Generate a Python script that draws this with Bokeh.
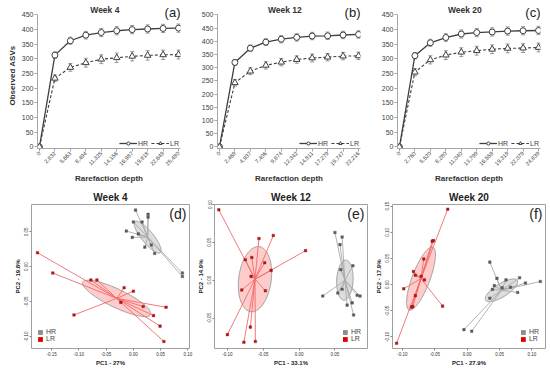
import math
import numpy as np
from bokeh.plotting import figure
from bokeh.layouts import column, row
from bokeh.models import (FixedTicker, Range1d, Label, Legend, LegendItem, Whisker,
                          ColumnDataSource, TeeHead, NumeralTickFormatter)
from bokeh.embed import file_html
from bokeh.resources import INLINE

FONT = "Liberation Sans"

# ---------------- Rarefaction curves (observed ASVs) ----------------
depth_w4 = [0, 2832, 5663, 8494, 11325, 14156, 16987, 19818, 22649, 25480]
hr_w4 = [0, 313, 362, 381, 390, 396, 400, 402, 404, 405]
hr_w4_sd = [0, 11, 12, 13, 14, 14, 14, 14, 14, 14]
lr_w4 = [0, 234, 271, 287, 299, 304, 309, 312, 314, 315]
lr_w4_sd = [0, 11, 13, 15, 15, 16, 16, 16, 16, 15]

depth_w12 = [0, 2469, 4937, 7406, 9874, 12342, 14811, 17279, 19747, 22216]
hr_w12 = [0, 320, 374, 397, 408, 415, 420, 421, 424, 426]
hr_w12_sd = [0, 11, 12, 13, 14, 14, 14, 14, 14, 14]
lr_w12 = [0, 243, 287, 309, 321, 331, 337, 340, 344, 345]
lr_w12_sd = [0, 12, 13, 14, 14, 14, 15, 14, 14, 14]

depth_w20 = [0, 2760, 5520, 8280, 11040, 13799, 16559, 19319, 22079, 24839]
hr_w20 = [0, 311, 355, 373, 385, 390, 392, 395, 396, 397]
hr_w20_sd = [0, 11, 12, 13, 14, 14, 14, 14, 14, 14]
lr_w20 = [0, 255, 297, 313, 323, 328, 333, 336, 337, 339]
lr_w20_sd = [0, 12, 14, 15, 15, 15, 15, 15, 15, 15]

# ---------------- PCA scores ----------------
d_hr_x = [0.004, 0.027, 0.027, 0.000, 0.016, -0.013, 0.009, -0.002, 0.033, 0.021, 0.039, 0.090, 0.090]
d_hr_y = [0.081, 0.075, 0.071, 0.064, 0.064, 0.051, 0.047, 0.042, 0.031, 0.028, 0.019, -0.009, -0.014]
d_lr_x = [-0.176, -0.148, -0.078, -0.067, -0.017, 0.000, -0.023, 0.018, 0.060, -0.109, 0.037, 0.049, 0.056]
d_lr_y = [0.020, -0.009, -0.019, -0.019, -0.030, -0.035, -0.051, -0.057, -0.058, -0.069, -0.070, -0.085, -0.107]
# ellipse conjugate semi-axes: major (dx, dy), minor (dx, dy)
d_hr_ell = [0.0232, -0.0223, -0.0086, -0.0052]
d_lr_ell = [0.0622, -0.0232, -0.0075, -0.0117]

e_hr_x = [0.050, 0.060, 0.057, 0.058, 0.075, 0.033, 0.054, 0.060, 0.081, 0.085, 0.067, 0.074, 0.076]
e_hr_y = [0.063, 0.057, 0.047, 0.014, 0.019, -0.021, -0.017, -0.012, -0.020, -0.021, -0.033, -0.030, -0.046]
e_lr_x = [-0.112, -0.056, -0.036, 0.009, -0.075, -0.066, -0.048, -0.039, -0.067, -0.080, -0.047, -0.068, -0.100, -0.077, -0.061]
e_lr_y = [0.093, 0.055, 0.059, 0.039, 0.027, 0.030, 0.023, 0.013, 0.005, -0.013, -0.014, -0.062, -0.072, -0.082, -0.081]
e_hr_ell = [0.0014, 0.0265, 0.0114, -0.0005]
e_lr_ell = [0.0059, 0.0430, 0.0225, -0.0028]

f_hr_x = [0.035, 0.046, 0.060, 0.042, 0.039, 0.054, 0.067, 0.081, 0.090, 0.113, 0.078, 0.035, -0.005, 0.007]
f_hr_y = [0.043, 0.012, 0.009, -0.002, -0.009, -0.006, -0.005, 0.013, 0.003, 0.006, -0.015, -0.026, -0.086, -0.089]
f_lr_x = [-0.030, -0.054, -0.052, -0.067, -0.083, -0.080, -0.071, -0.066, -0.098, -0.080, -0.086, -0.084, -0.038, -0.109]
f_lr_y = [0.144, 0.083, 0.084, 0.049, 0.025, 0.018, 0.016, 0.009, -0.008, -0.021, -0.043, -0.042, -0.041, -0.112]
f_hr_ell = [0.0244, 0.0189, 0.0054, -0.0107]
f_lr_ell = [0.0183, 0.0600, 0.0128, -0.0061]

LINE = "#3f3f3f"
AXC = "#a6a6a6"
NAN = float("nan")
PLOT_H = 138.0   # pixel height between 0 and the top tick of the rarefaction panels


def rare_panel(depth, hr, hr_sd, lr, lr_sd, ymax, title, tag, w, left, right, ylabel=None):
    ystart = -ymax * 0.012
    yend = ymax * (1 + 13 / PLOT_H)
    p = figure(width=w, height=186, output_backend="svg", toolbar_location=None,
               x_range=Range1d(-depth[-1] * 0.014, depth[-1] * 1.014),
               y_range=Range1d(ystart, yend),
               min_border_left=left, min_border_right=right,
               min_border_top=2, min_border_bottom=33)
    p.outline_line_color = None
    p.xgrid.grid_line_color = None
    p.ygrid.grid_line_color = None

    for sd, ys in ((hr_sd, hr), (lr_sd, lr)):
        src = ColumnDataSource(dict(x=depth[1:],
                                    lo=[a - b for a, b in zip(ys[1:], sd[1:])],
                                    hi=[a + b for a, b in zip(ys[1:], sd[1:])]))
        p.add_layout(Whisker(source=src, base="x", lower="lo", upper="hi",
                             line_color="#7f7f7f", line_width=0.8,
                             upper_head=TeeHead(size=4, line_color="#7f7f7f", line_width=0.8),
                             lower_head=TeeHead(size=4, line_color="#7f7f7f", line_width=0.8)))

    l_hr = p.line(depth, hr, line_color=LINE, line_width=1.3)
    m_hr = p.scatter(depth, hr, marker="circle", size=6, fill_color="white",
                     line_color=LINE, line_width=1)
    l_lr = p.line(depth, lr, line_color=LINE, line_width=1.1, line_dash="3 2")
    m_lr = p.scatter(depth, lr, marker="triangle", size=6.5, fill_color="white",
                     line_color=LINE, line_width=1)

    leg = Legend(items=[LegendItem(label="HR", renderers=[l_hr, m_hr]),
                        LegendItem(label="LR", renderers=[l_lr, m_lr])],
                 orientation="horizontal", location="bottom_right",
                 border_line_color=None, background_fill_alpha=0,
                 label_text_font=FONT, label_text_font_size="7px", label_text_color="#404040",
                 glyph_width=18, glyph_height=8, spacing=3, padding=1, margin=1,
                 label_standoff=1, label_height=8, label_width=8)
    p.add_layout(leg)

    xa = p.xaxis[0]
    ya = p.yaxis[0]
    xa.ticker = FixedTicker(ticks=depth)
    xa.formatter = NumeralTickFormatter(format="0,0")
    xa.major_label_orientation = math.pi / 4
    xa.major_label_text_font_size = "5.6px"
    ya.ticker = FixedTicker(ticks=list(range(0, ymax + 1, 50)))
    ya.bounds = (ystart, ymax)
    ya.major_label_text_font_size = "7px"
    for ax in (xa, ya):
        ax.axis_line_color = AXC
        ax.major_tick_line_color = AXC
        ax.minor_tick_line_color = None
        ax.major_tick_in = 0
        ax.major_tick_out = 3
        ax.major_label_standoff = 1
        ax.major_label_text_color = "#404040"
        ax.major_label_text_font = FONT
        ax.axis_label_text_font = FONT
        ax.axis_label_text_font_style = "bold"
        ax.axis_label_text_font_size = "8px"
        ax.axis_label_text_color = "#333333"
        ax.axis_label_standoff = 2
    xa.axis_label_standoff = 4
    xa.axis_label = "Rarefaction depth"
    if ylabel:
        ya.axis_label = ylabel

    p.add_layout(Label(x=depth[-1] * 0.47, y=ymax * (1 + 5 / PLOT_H), text=title,
                       text_align="center", text_baseline="middle", text_font=FONT,
                       text_font_size="8.5px", text_font_style="bold", text_color="#333333"))
    p.add_layout(Label(x=depth[-1] * 1.014, y=ymax * (1 + 3 / PLOT_H), text=tag,
                       text_align="right", text_baseline="middle", text_font=FONT,
                       text_font_size="13px", text_color="#222222"))
    return p


def ellipse_xy(xs, ys, vec):
    cx, cy = float(np.mean(xs)), float(np.mean(ys))
    t = np.linspace(0, 2 * np.pi, 120)
    ax, ay, bx, by = vec
    return cx + ax * np.cos(t) + bx * np.sin(t), cy + ay * np.cos(t) + by * np.sin(t)


def pca_panel(hr_x, hr_y, hr_ell, lr_x, lr_y, lr_ell, xr, yr, xt, yt, title, tag,
              xlabel, ylabel, w, left, right, legend_loc):
    p = figure(width=w, height=182, output_backend="svg", toolbar_location=None,
               x_range=Range1d(*xr), y_range=Range1d(*yr),
               min_border_left=left, min_border_right=right,
               min_border_top=18, min_border_bottom=17)
    p.outline_line_color = "#a0a0a0"
    p.outline_line_width = 1
    p.xgrid.grid_line_color = None
    p.ygrid.grid_line_color = None

    groups = [(hr_x, hr_y, hr_ell, "#d4d4d4", 0.8, "#aaaaaa", "#5a5a5a"),
              (lr_x, lr_y, lr_ell, "#ff9a9a", 0.5, "#f06a6a", "#a81818")]
    for xs, ys, ell, fill, falpha, spider, pt in groups:
        ex, ey = ellipse_xy(xs, ys, ell)
        p.patch(list(ex), list(ey), fill_color=fill, fill_alpha=falpha,
                line_color="#999999", line_width=0.9)
    for xs, ys, ell, fill, falpha, spider, pt in groups:
        cx, cy = float(np.mean(xs)), float(np.mean(ys))
        p.segment(x0=[cx] * len(xs), y0=[cy] * len(ys), x1=xs, y1=ys,
                  line_color=spider, line_width=0.9)
    for xs, ys, ell, fill, falpha, spider, pt in groups:
        p.scatter(xs, ys, marker="square", size=2.6, fill_color=pt, line_color=pt, line_width=0.4)

    # legend proxies (not drawn in the plot area)
    g1 = p.rect(x=[NAN], y=[NAN], width=1, height=1, fill_color="#8c8c8c", line_color=None)
    g2 = p.rect(x=[NAN], y=[NAN], width=1, height=1, fill_color="#e00000", line_color=None)
    leg = Legend(items=[LegendItem(label="HR", renderers=[g1]), LegendItem(label="LR", renderers=[g2])],
                 location=legend_loc, border_line_color=None, background_fill_alpha=0,
                 label_text_font=FONT, label_text_font_size="7px", label_text_color="#444444",
                 glyph_width=6, glyph_height=6, spacing=0, padding=1, margin=6,
                 label_standoff=3, label_height=7, label_width=10)
    p.add_layout(leg)

    xa = p.xaxis[0]
    ya = p.yaxis[0]
    xa.ticker = FixedTicker(ticks=xt)
    ya.ticker = FixedTicker(ticks=yt)
    ya.major_label_orientation = "vertical"
    for ax in (xa, ya):
        ax.formatter = NumeralTickFormatter(format="0.00")
        ax.axis_line_color = None
        ax.major_tick_line_color = "#888888"
        ax.minor_tick_line_color = None
        ax.major_tick_in = 0
        ax.major_tick_out = 2
        ax.major_label_standoff = 1
        ax.major_label_text_font = FONT
        ax.major_label_text_font_size = "4.5px"
        ax.major_label_text_color = "#333333"
        ax.axis_label_text_font = FONT
        ax.axis_label_text_font_style = "bold"
        ax.axis_label_text_font_size = "6px"
        ax.axis_label_text_color = "#222222"
        ax.axis_label_standoff = 1
    xa.axis_label = xlabel
    ya.axis_label = ylabel

    p.title.text = title
    p.title.align = "center"
    p.title.text_font = FONT
    p.title.text_font_size = "10px"
    p.title.text_font_style = "bold"
    p.title.text_color = "#222222"
    p.title.standoff = 3

    p.add_layout(Label(x=xr[1] - (xr[1] - xr[0]) * 0.02, y=yr[1] - (yr[1] - yr[0]) * 0.01,
                       text=tag, text_align="right", text_baseline="top",
                       text_font=FONT, text_font_size="14px", text_color="#222222"))
    return p


pa = rare_panel(depth_w4, hr_w4, hr_w4_sd, lr_w4, lr_w4_sd, 450, "Week 4", "(a)", 190, 37, 10,
                ylabel="Observed ASVs")
pb = rare_panel(depth_w12, hr_w12, hr_w12_sd, lr_w12, lr_w12_sd, 500, "Week 12", "(b)", 180, 27, 10)
pc = rare_panel(depth_w20, hr_w20, hr_w20_sd, lr_w20, lr_w20_sd, 450, "Week 20", "(c)", 180, 27, 10)

pd_ = pca_panel(d_hr_x, d_hr_y, d_hr_ell, d_lr_x, d_lr_y, d_lr_ell,
                (-0.187, 0.103), (-0.117, 0.089),
                [-0.15, -0.10, -0.05, 0.0, 0.05, 0.10], [-0.10, -0.05, 0.0, 0.05],
                "Week 4", "(d)", "PC1 - 27%", "PC2 - 19.8%", 194, 31, 5, "bottom_left")
pe = pca_panel(e_hr_x, e_hr_y, e_hr_ell, e_lr_x, e_lr_y, e_lr_ell,
               (-0.118, 0.0954), (-0.0903, 0.100),
               [-0.10, -0.05, 0.0, 0.05], [-0.05, 0.0, 0.05, 0.10],
               "Week 12", "(e)", "PC1 - 33.1%", "PC2 - 14.9%", 178, 17, 5, "bottom_right")
pf = pca_panel(f_hr_x, f_hr_y, f_hr_ell, f_lr_x, f_lr_y, f_lr_ell,
               (-0.1153, 0.121), (-0.122, 0.153),
               [-0.10, -0.05, 0.0, 0.05, 0.10], [-0.10, -0.05, 0.0, 0.05, 0.10, 0.15],
               "Week 20", "(f)", "PC1 - 27.9%", "PC2 - 17.9%", 178, 17, 5, "bottom_right")

layout = column(row(pa, pb, pc, spacing=0), row(pd_, pe, pf, spacing=0), spacing=0)

with open("out.html", "w") as fh:
    fh.write(file_html(layout, INLINE))
